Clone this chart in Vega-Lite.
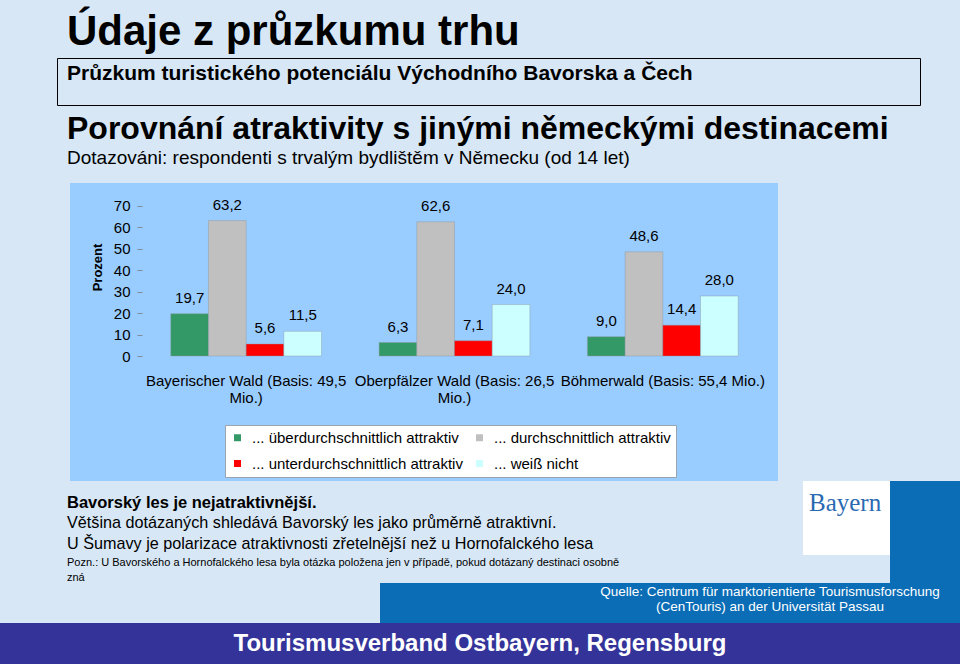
{
  "$schema": "https://vega.github.io/schema/vega-lite/v6.json",
  "background": "#D7E7F5",
  "padding": 0,
  "bounds": "full",
  "align": "each",
  "spacing": 0,
  "config": {
    "font": "Liberation Sans",
    "view": {"stroke": null},
    "locale": {"number": {"decimal": ",", "thousands": ".", "grouping": [3], "currency": ["", " €"]}},
    "title": {"anchor": "start", "frame": "group", "color": "#000000"}
  },
  "vconcat": [
    {
      "width": 960, "height": 57, "data": {"values": []}, "mark": "point",
      "title": {"text": "Údaje z průzkumu trhu", "fontSize": 42, "fontWeight": "bold", "dx": 67, "offset": -54}
    },
    {
      "hconcat": [
        {"width": 57, "height": 47, "data": {"values": []}, "mark": "point"},
        {
          "width": 863, "height": 47,
          "view": {"stroke": "#000000", "strokeWidth": 1},
          "data": {"values": []}, "mark": "point",
          "title": {"text": "Průzkum turistického potenciálu Východního Bavorska a Čech", "fontSize": 21, "fontWeight": "bold", "dx": 10, "offset": -26}
        }
      ],
      "spacing": 0, "bounds": "flush", "align": "each"
    },
    {
      "width": 960, "height": 77, "data": {"values": []}, "mark": "point",
      "title": {
        "text": "Porovnání atraktivity s jinými německými destinacemi",
        "subtitle": "Dotazováni: respondenti s trvalým bydlištěm v Německu (od 14 let)",
        "fontSize": 32, "fontWeight": "bold",
        "subtitleFontSize": 19, "subtitleColor": "#000000", "subtitlePadding": 3,
        "dx": 67, "offset": -63
      }
    },
    {
      "hconcat": [
        {"width": 70, "height": 298, "data": {"values": []}, "mark": "point"},
        {
          "width": 708, "height": 298,
          "view": {"fill": "#99CCFF"},
          "data": {"values": [
            {"region": "Bayerischer Wald (Basis: 49,5 Mio.)", "rating": "... überdurchschnittlich attraktiv", "value": 19.7},
            {"region": "Bayerischer Wald (Basis: 49,5 Mio.)", "rating": "... durchschnittlich attraktiv", "value": 63.2},
            {"region": "Bayerischer Wald (Basis: 49,5 Mio.)", "rating": "... unterdurchschnittlich attraktiv", "value": 5.6},
            {"region": "Bayerischer Wald (Basis: 49,5 Mio.)", "rating": "... weiß nicht", "value": 11.5},
            {"region": "Oberpfälzer Wald (Basis: 26,5 Mio.)", "rating": "... überdurchschnittlich attraktiv", "value": 6.3},
            {"region": "Oberpfälzer Wald (Basis: 26,5 Mio.)", "rating": "... durchschnittlich attraktiv", "value": 62.6},
            {"region": "Oberpfälzer Wald (Basis: 26,5 Mio.)", "rating": "... unterdurchschnittlich attraktiv", "value": 7.1},
            {"region": "Oberpfälzer Wald (Basis: 26,5 Mio.)", "rating": "... weiß nicht", "value": 24.0},
            {"region": "Böhmerwald (Basis: 55,4 Mio.)", "rating": "... überdurchschnittlich attraktiv", "value": 9.0},
            {"region": "Böhmerwald (Basis: 55,4 Mio.)", "rating": "... durchschnittlich attraktiv", "value": 48.6},
            {"region": "Böhmerwald (Basis: 55,4 Mio.)", "rating": "... unterdurchschnittlich attraktiv", "value": 14.4},
            {"region": "Böhmerwald (Basis: 55,4 Mio.)", "rating": "... weiß nicht", "value": 28.0}
          ]},
          "encoding": {
            "x": {
              "field": "region", "type": "nominal",
              "sort": ["Bayerischer Wald (Basis: 49,5 Mio.)", "Oberpfälzer Wald (Basis: 26,5 Mio.)", "Böhmerwald (Basis: 55,4 Mio.)"],
              "scale": {"paddingInner": 0, "paddingOuter": 0.1992, "align": 0.8675},
              "axis": {
                "title": null, "orient": "bottom", "offset": -125, "domain": false,
                "ticks": false, "tickSize": 0,
                "labelFontSize": 15, "labelColor": "#000000", "labelPadding": 17, "labelAngle": 0,
                "labelLineHeight": 17, "labelLimit": 0,
                "labelExpr": "indexof(datum.label, 'Böhmerwald') == 0 ? datum.label : [replace(datum.label, ' Mio.)', ''), 'Mio.)']"
              }
            },
            "y": {
              "field": "value", "type": "quantitative",
              "scale": {"domain": [-58.33, 80.73], "nice": false, "zero": false},
              "axis": {
                "values": [0, 10, 20, 30, 40, 50, 60, 70], "offset": -72, "domain": false, "grid": false,
                "tickSize": 5, "tickColor": "#7F8C99", "labelFontSize": 15, "labelColor": "#000000", "labelPadding": 7,
                "title": "Prozent", "titleFontSize": 13, "titleFontWeight": "bold", "titleColor": "#000000",
                "titleX": -45, "titleY": 84, "titleAngle": -90, "titleBaseline": "middle", "titleAlign": "center"
              }
            }
          },
          "layer": [
            {
              "mark": {"type": "bar", "stroke": "#8C9499", "strokeWidth": 0.6, "strokeOpacity": 0.7},
              "encoding": {
                "xOffset": {
                  "field": "rating", "type": "nominal",
                  "sort": ["... überdurchschnittlich attraktiv", "... durchschnittlich attraktiv", "... unterdurchschnittlich attraktiv", "... weiß nicht"],
                  "scale": {"paddingInner": 0, "paddingOuter": 0.764}
                },
                "color": {
                  "field": "rating", "type": "nominal",
                  "sort": ["... überdurchschnittlich attraktiv", "... durchschnittlich attraktiv", "... unterdurchschnittlich attraktiv", "... weiß nicht"],
                  "scale": {
                    "domain": ["... überdurchschnittlich attraktiv", "... durchschnittlich attraktiv", "... unterdurchschnittlich attraktiv", "... weiß nicht"],
                    "range": ["#339966", "#C0C0C0", "#FF0000", "#CCFFFF"]
                  },
                  "legend": {
                    "title": null, "orient": "none", "legendX": 225, "legendY": 425,
                    "columns": 2, "direction": "horizontal",
                    "fillColor": "#FFFFFF", "strokeColor": "#9AA4AE", "padding": 5,
                    "symbolType": "square", "symbolSize": 49, "symbolStrokeWidth": 0,
                    "labelFontSize": 15, "labelColor": "#000000", "labelOffset": 7,
                    "columnPadding": 9, "rowPadding": 10, "labelLimit": 400
                  }
                }
              }
            },
            {
              "mark": {"type": "text", "baseline": "alphabetic", "dy": -11, "fontSize": 15, "color": "#000000"},
              "encoding": {
                "xOffset": {
                  "field": "rating", "type": "nominal",
                  "sort": ["... überdurchschnittlich attraktiv", "... durchschnittlich attraktiv", "... unterdurchschnittlich attraktiv", "... weiß nicht"],
                  "scale": {"paddingInner": 0, "paddingOuter": 0.764}
                },
                "text": {"field": "value", "type": "quantitative", "format": ".1f"}
              }
            },
            {
              "data": {"values": [{"region": "Bayerischer Wald (Basis: 49,5 Mio.)"}]},
              "mark": {"type": "rule", "color": "#7F8C99", "strokeWidth": 1},
              "encoding": {
                "x": {"field": "region", "type": "nominal", "bandPosition": 0,
                      "sort": ["Bayerischer Wald (Basis: 49,5 Mio.)", "Oberpfälzer Wald (Basis: 26,5 Mio.)", "Böhmerwald (Basis: 55,4 Mio.)"]},
                "y": {"datum": 0},
                "y2": {"datum": 70}
              }
            },
            {
              "data": {"values": [
                {"region": "Bayerischer Wald (Basis: 49,5 Mio.)"},
                {"region": "Oberpfälzer Wald (Basis: 26,5 Mio.)"},
                {"region": "Böhmerwald (Basis: 55,4 Mio.)"}
              ]},
              "mark": {"type": "bar", "color": "#7F8C99"},
              "encoding": {
                "y": {"datum": 0},
                "y2": {"datum": -0.45}
              }
            },
            {
              "data": {"values": [
                {"region": "Bayerischer Wald (Basis: 49,5 Mio.)"},
                {"region": "Oberpfälzer Wald (Basis: 26,5 Mio.)"},
                {"region": "Böhmerwald (Basis: 55,4 Mio.)"}
              ]},
              "mark": {"type": "rule", "color": "#7F8C99", "strokeWidth": 1},
              "encoding": {
                "x": {"field": "region", "type": "nominal", "bandPosition": 0,
                      "sort": ["Bayerischer Wald (Basis: 49,5 Mio.)", "Oberpfälzer Wald (Basis: 26,5 Mio.)", "Böhmerwald (Basis: 55,4 Mio.)"]},
                "y": {"datum": 0},
                "y2": {"datum": -2.4}
              }
            },
            {
              "data": {"values": [{"region": "Böhmerwald (Basis: 55,4 Mio.)"}]},
              "mark": {"type": "rule", "color": "#7F8C99", "strokeWidth": 1},
              "encoding": {
                "x": {"field": "region", "type": "nominal", "bandPosition": 1,
                      "sort": ["Bayerischer Wald (Basis: 49,5 Mio.)", "Oberpfälzer Wald (Basis: 26,5 Mio.)", "Böhmerwald (Basis: 55,4 Mio.)"]},
                "y": {"datum": 0},
                "y2": {"datum": -2.4}
              }
            }
          ]
        }
      ],
      "spacing": 0, "bounds": "flush", "align": "each"
    },
    {
      "hconcat": [
        {
          "vconcat": [
            {
              "width": 803, "height": 72, "data": {"values": []}, "mark": "point",
              "title": {
                "text": "Bavorský les je nejatraktivnější.",
                "subtitle": ["Většina dotázaných shledává Bavorský les jako průměrně atraktivní.", "U Šumavy je polarizace atraktivnosti zřetelnější než u Hornofalckého lesa"],
                "fontSize": 16.5, "fontWeight": "bold",
                "subtitleFontSize": 16.2, "subtitleColor": "#000000", "subtitleLineHeight": 21, "subtitlePadding": 4,
                "dx": 67, "offset": -71.5
              }
            },
            {
              "width": 803, "height": 30, "data": {"values": []}, "mark": "point",
              "title": {
                "text": ["Pozn.: U Bavorského a Hornofalckého lesa byla otázka položena jen v případě, pokud dotázaný destinaci osobně", "zná"],
                "fontSize": 11, "fontWeight": "normal", "lineHeight": 15,
                "dx": 67, "offset": -30
              }
            }
          ],
          "spacing": 0, "bounds": "flush", "align": "each"
        },
        {
          "width": 87, "height": 74, "view": {"fill": "#FFFFFF"}, "data": {"values": []}, "mark": "point",
          "title": {
            "text": "Bayern", "font": "Liberation Serif", "fontSize": 25, "fontWeight": "normal", "color": "#2A6AB2",
            "dx": 6, "offset": -35
          }
        },
        {"width": 70, "height": 102, "view": {"fill": "#0B6DB6"}, "data": {"values": []}, "mark": "point"}
      ],
      "spacing": 0, "bounds": "full", "align": "each"
    },
    {
      "hconcat": [
        {"width": 380, "height": 40, "data": {"values": []}, "mark": "point"},
        {
          "width": 580, "height": 40, "view": {"fill": "#0B6DB6"}, "data": {"values": []}, "mark": "point",
          "title": {
            "text": ["Quelle: Centrum für marktorientierte Tourismusforschung", "(CenTouris) an der Universität Passau"],
            "fontSize": 13.5, "fontWeight": "normal", "lineHeight": 15, "color": "#FFFFFF",
            "align": "center", "dx": 390, "offset": -30
          }
        }
      ],
      "spacing": 0, "bounds": "flush", "align": "each"
    },
    {
      "width": 960, "height": 41, "view": {"fill": "#333399"}, "data": {"values": []}, "mark": "point",
      "title": {
        "text": "Tourismusverband Ostbayern, Regensburg",
        "fontSize": 24, "fontWeight": "bold", "color": "#FFFFFF", "anchor": "middle", "offset": -33
      }
    }
  ]
}
